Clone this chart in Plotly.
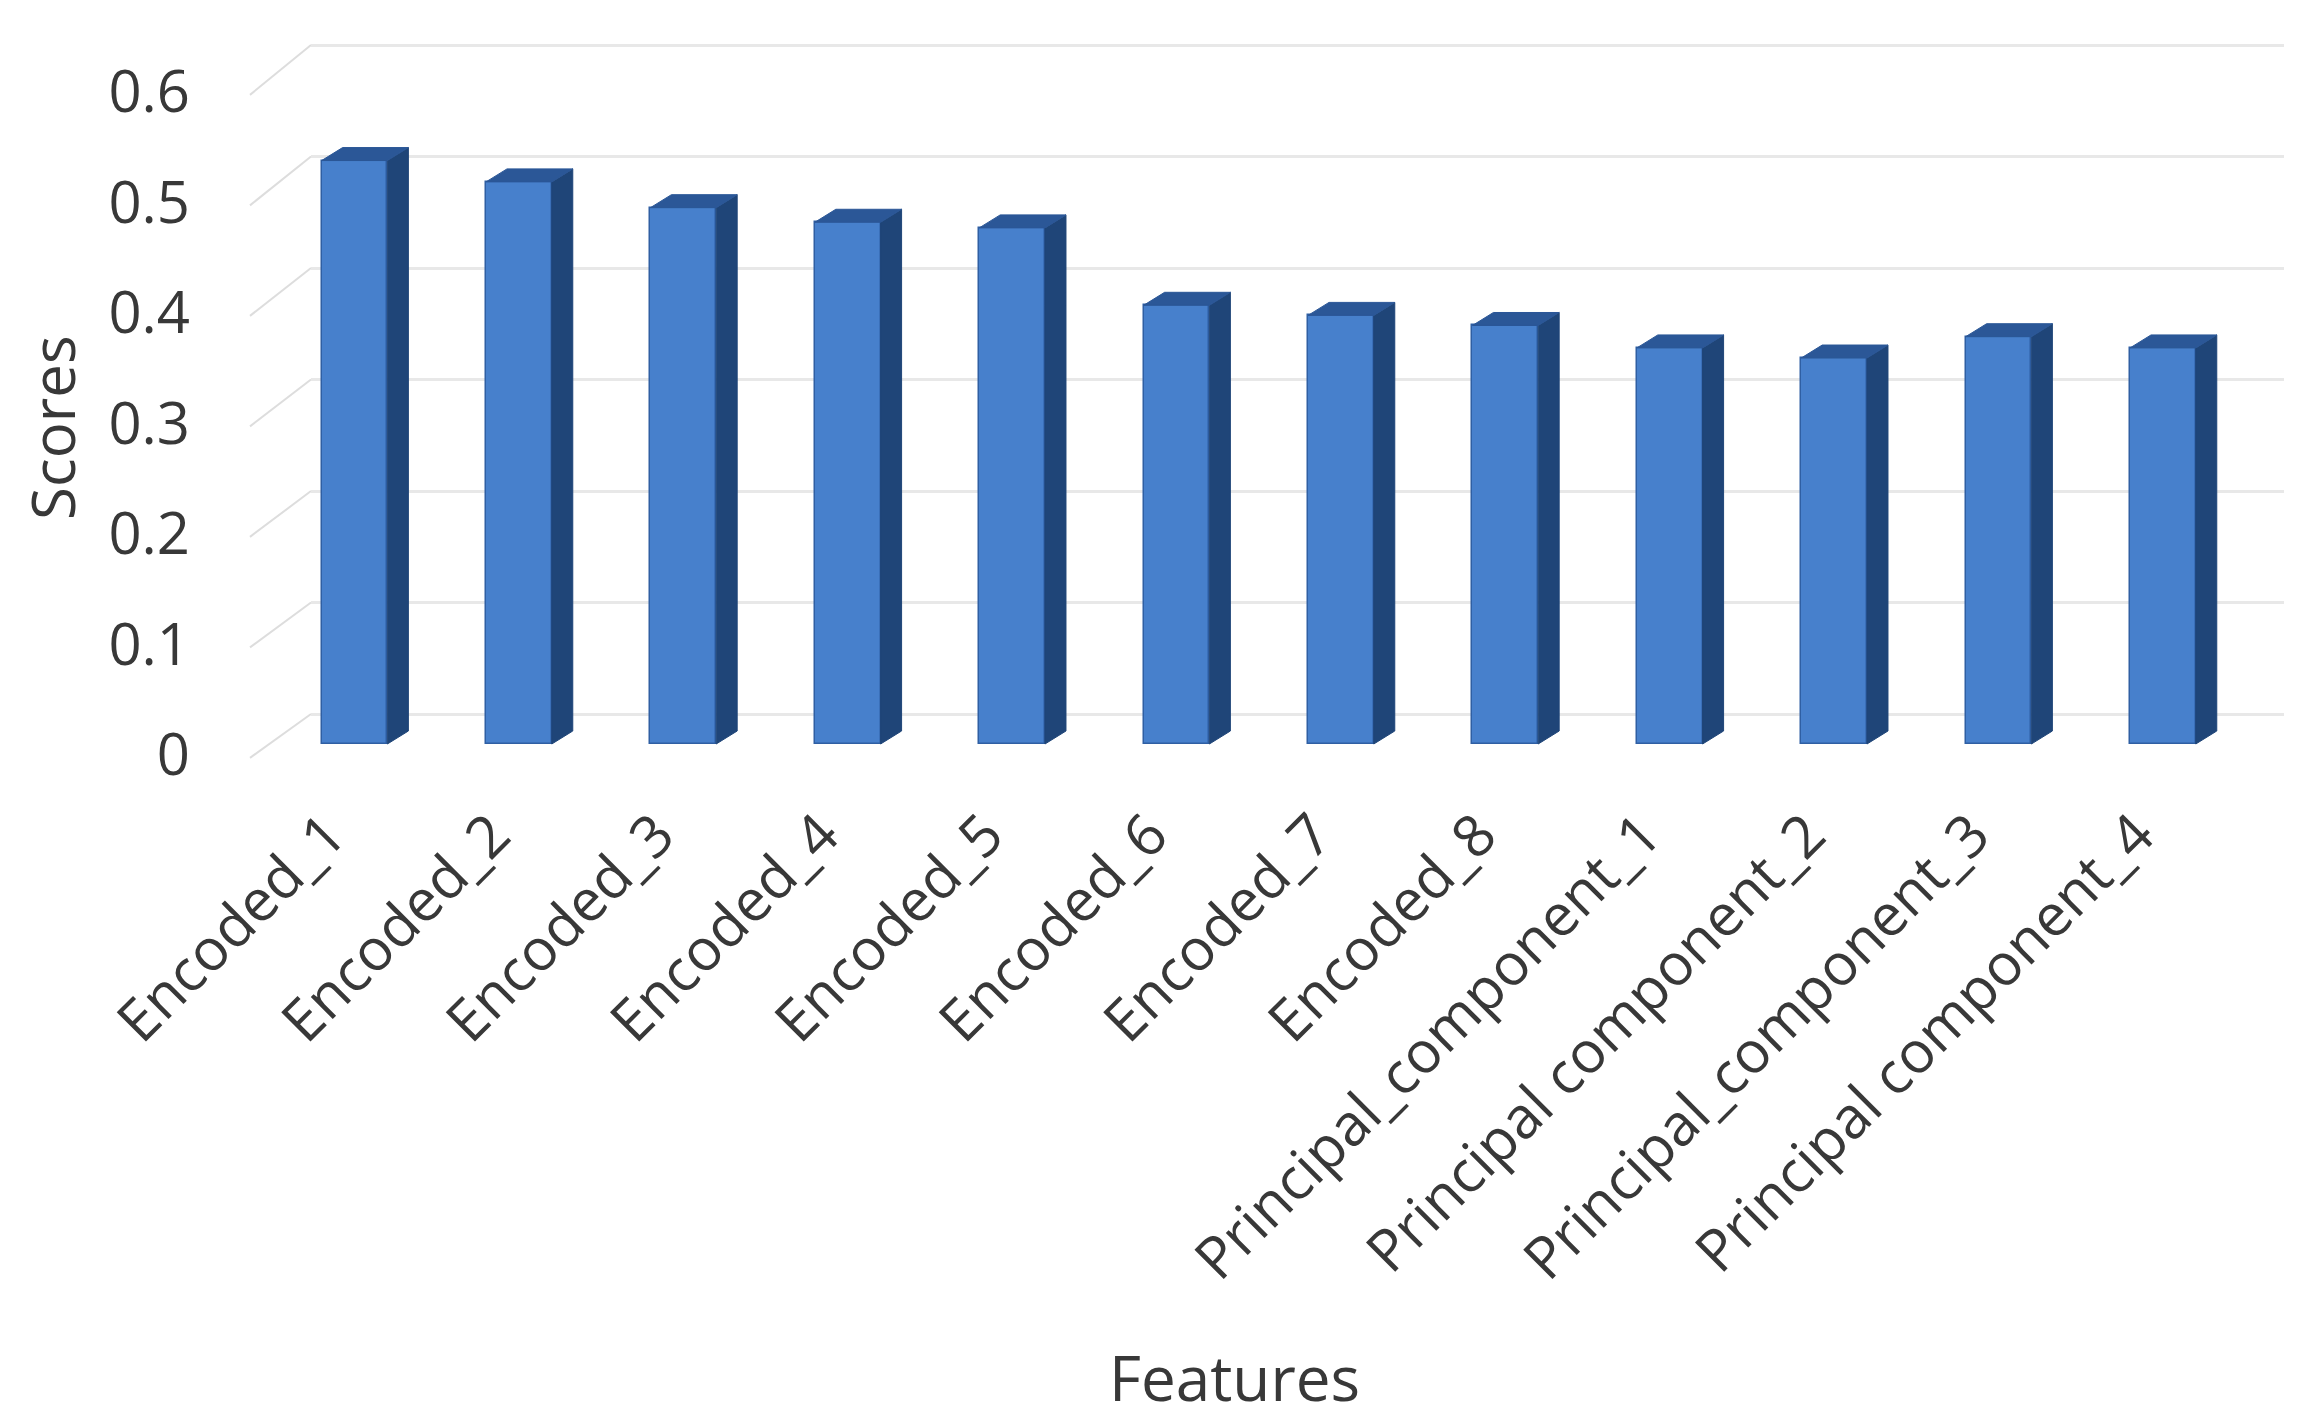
import plotly.graph_objects as go

# ---------------- data ----------------
features = [
    "Encoded_1", "Encoded_2", "Encoded_3", "Encoded_4",
    "Encoded_5", "Encoded_6", "Encoded_7", "Encoded_8",
    "Principal_component_1", "Principal component_2",
    "Principal_component_3", "Principal component_4",
]
scores = [0.520, 0.501, 0.478, 0.465, 0.460, 0.391,
          0.382, 0.373, 0.353, 0.344, 0.363, 0.353]
y_ticks = [0, 0.1, 0.2, 0.3, 0.4, 0.5, 0.6]
y_tick_labels = ["0", "0.1", "0.2", "0.3", "0.4", "0.5", "0.6"]

# ---------------- layout geometry (pixels) ----------------
W, H = 2314, 1426
PX0, PX1 = 311, 2284          # plot area left/right
PTOP, PBOT = 20, 780          # plot area top/bottom
CAT0, PITCH = 354.5, 164.4    # first category centre, category pitch

# pseudo-3D depth (back wall, bars, front labels)
BACK_ZERO, BACK_SCALE = 714, 1115
BAR_ZERO, BAR_SCALE = 744, 1122
LAB_ZERO, LAB_SCALE = 755, 1105

BAR_W = 0.40
DX = 21 / PITCH
DY = 13 / BAR_SCALE
LABEL_SHIFT = 26 / PITCH      # category labels sit slightly left of the bars

FRONT = "#4780CC"
SIDE = "#1F4578"
TOP = "#2B5797"
GRID = "#E8E8E8"
TXT = "#383838"
FONT = "Open Sans"


def yrange(zero, scale):
    return [(zero - PBOT) / scale, (zero - PTOP) / scale]


xs = list(range(len(features)))

fig = go.Figure()

# invisible trace on the base (back-wall grid) axis so the xy subplot exists
fig.add_trace(go.Scatter(x=[0], y=[0], xaxis="x", yaxis="y",
                         mode="markers", marker=dict(opacity=0),
                         showlegend=False, hoverinfo="skip"))

# front faces
fig.add_trace(go.Bar(
    x=xs, y=scores, width=BAR_W, xaxis="x", yaxis="y2",
    marker=dict(color=FRONT, line=dict(color="#2F5FA3", width=1.5)),
    showlegend=False, hoverinfo="y",
))

# side faces and top faces
side_x, side_y, top_x, top_y = [], [], [], []
for i, v in zip(xs, scores):
    xl, xr = i - BAR_W / 2, i + BAR_W / 2
    side_x += [xr, xr + DX, xr + DX, xr, xr, None]
    side_y += [0, DY, v + DY, v, 0, None]
    top_x += [xl, xl + DX, xr + DX, xr, xl, None]
    top_y += [v, v + DY, v + DY, v, v, None]

fig.add_trace(go.Scatter(
    x=side_x, y=side_y, xaxis="x", yaxis="y2", mode="lines",
    fill="toself", fillcolor=SIDE, line=dict(color=SIDE, width=1),
    showlegend=False, hoverinfo="skip",
))
fig.add_trace(go.Scatter(
    x=top_x, y=top_y, xaxis="x", yaxis="y2", mode="lines",
    fill="toself", fillcolor=TOP, line=dict(color=TOP, width=1),
    showlegend=False, hoverinfo="skip",
))

# invisible trace so yaxis3 (front tick labels) renders
fig.add_trace(go.Scatter(x=[0], y=[0], xaxis="x", yaxis="y3",
                         mode="markers", marker=dict(opacity=0),
                         showlegend=False, hoverinfo="skip"))

# perspective connectors from back-wall gridlines to the front labels
shapes = []
for t in y_ticks:
    yb = 1 - (BACK_ZERO - BACK_SCALE * t) / H
    yf = 1 - (LAB_ZERO - LAB_SCALE * t) / H - 0.002
    shapes.append(dict(
        type="line", xref="paper", yref="paper",
        x0=PX0 / W, y0=yb, x1=250 / W, y1=yf,
        line=dict(color="#DDDDDD", width=2), layer="below",
    ))

ydom = [1 - PBOT / H, 1 - PTOP / H]

fig.update_layout(
    width=W, height=H,
    margin=dict(l=0, r=0, t=0, b=0),
    paper_bgcolor="white", plot_bgcolor="rgba(0,0,0,0)",
    font=dict(family=FONT, color=TXT),
    showlegend=False,
    bargap=0,
    shapes=shapes,
    xaxis=dict(
        domain=[PX0 / W, PX1 / W],
        range=[(PX0 - CAT0) / PITCH, (PX1 - CAT0) / PITCH],
        tickmode="array", tickvals=[i - LABEL_SHIFT for i in xs],
        ticktext=features,
        tickangle=-45, tickfont=dict(size=58, color=TXT, family=FONT),
        ticklabelstandoff=8,
        showgrid=False, zeroline=False, showline=False, ticks="",
        anchor="y", automargin=False,
    ),
    yaxis=dict(
        domain=ydom, range=yrange(BACK_ZERO, BACK_SCALE),
        anchor="x",
        tickmode="array", tickvals=y_ticks, showticklabels=False,
        showgrid=True, gridcolor=GRID, gridwidth=3,
        zeroline=False, showline=False, ticks="", automargin=False,
    ),
    yaxis2=dict(
        domain=ydom, overlaying="y", anchor="x",
        range=yrange(BAR_ZERO, BAR_SCALE),
        visible=False, showgrid=False, zeroline=False,
    ),
    yaxis3=dict(
        domain=ydom, overlaying="y", anchor="free", position=190 / W,
        side="left", range=yrange(LAB_ZERO, LAB_SCALE),
        tickmode="array", tickvals=y_ticks, ticktext=y_tick_labels,
        tickfont=dict(size=58, color=TXT, family=FONT),
        showgrid=False, zeroline=False, showline=False, ticks="",
        automargin=False,
    ),
    annotations=[
        dict(text="Scores", xref="paper", yref="paper",
             x=52 / W, y=1 - 428 / H, textangle=-90, showarrow=False,
             font=dict(size=60, color=TXT, family=FONT),
             xanchor="center", yanchor="middle"),
        dict(text="Features", xref="paper", yref="paper",
             x=1234 / W, y=1 - 1377 / H, showarrow=False,
             font=dict(size=62, color=TXT, family=FONT),
             xanchor="center", yanchor="middle"),
    ],
)

fig.write_html(
    "out.html",
    config={"displayModeBar": False},
    post_script="document.body.style.margin='0px';",
)
